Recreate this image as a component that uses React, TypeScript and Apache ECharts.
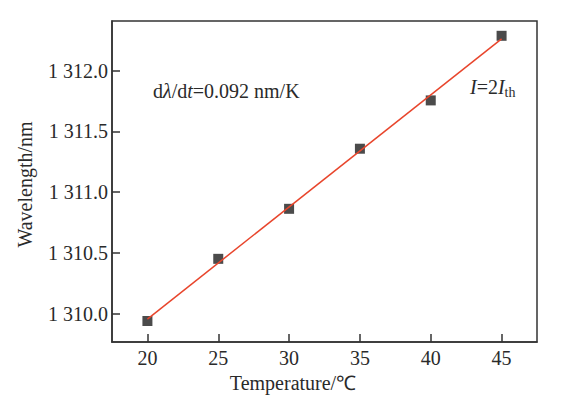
import React, { useEffect, useRef } from "react";
import * as echarts from "echarts";

const temperatures = [20, 25, 30, 35, 40, 45];
const wavelengths = [1309.939, 1310.451, 1310.863, 1311.358, 1311.756, 1312.288];
const fitX = [20, 45];
const fitY = [1309.955, 1312.263];
const xTicks = [20, 25, 30, 35, 40, 45];
const yTicks = [1310.0, 1310.5, 1311.0, 1311.5, 1312.0];

const FONT = "'Liberation Serif', 'Times New Roman', serif";

export default function App() {
  const ref = useRef<HTMLDivElement>(null);
  useEffect(() => {
    if (!ref.current) return;
    const chart = echarts.init(ref.current, null, { renderer: "svg" });
    const axisColor = "#333";
    chart.setOption({
      animation: false,
      backgroundColor: "#fff",
      textStyle: { fontFamily: FONT },
      grid: {
        left: 112,
        top: 21,
        width: 425,
        height: 321,
        show: true,
        borderColor: axisColor,
        borderWidth: 1.5,
        backgroundColor: "transparent",
      },
      xAxis: {
        type: "value",
        min: 17.5,
        max: 47.5,
        name: "Temperature/\u2103",
        nameLocation: "middle",
        nameGap: 28,
        nameTextStyle: {
          fontFamily: FONT,
          fontSize: 20,
          color: "#2a2a2a",
          padding: [0, 63, 0, 0],
        },
        splitLine: { show: false },
        axisLine: { show: true, lineStyle: { color: axisColor, width: 1.5 } },
        axisTick: {
          show: true,
          inside: true,
          length: 8,
          customValues: xTicks,
          lineStyle: { color: axisColor, width: 1.5 },
        },
        axisLabel: {
          customValues: xTicks,
          margin: 6,
          fontFamily: FONT,
          fontSize: 20,
          color: "#2a2a2a",
        },
      },
      yAxis: {
        type: "value",
        min: 1309.766,
        max: 1312.41,
        name: "Wavelength/nm",
        nameLocation: "middle",
        nameGap: 77,
        nameTextStyle: {
          fontFamily: FONT,
          fontSize: 20,
          color: "#2a2a2a",
          padding: [0, 6, 0, 0],
        },
        splitLine: { show: false },
        axisLine: { show: true, lineStyle: { color: axisColor, width: 1.5 } },
        axisTick: {
          show: true,
          inside: true,
          length: 8,
          customValues: yTicks,
          lineStyle: { color: axisColor, width: 1.5 },
        },
        axisLabel: {
          customValues: yTicks,
          margin: 4,
          fontFamily: FONT,
          fontSize: 20,
          color: "#2a2a2a",
          formatter: (v: number) => {
            const s = v.toFixed(1);
            return s.charAt(0) + " " + s.slice(1);
          },
        },
      },
      graphic: [
        {
          type: "text",
          left: 153,
          top: 81,
          style: {
            text: "d{i|\u03bb}/d{i|t}=0.092 nm/K",
            fontFamily: FONT,
            fontSize: 20,
            fill: "#2a2a2a",
            rich: {
              i: { fontFamily: FONT, fontSize: 20, fontStyle: "italic", fill: "#2a2a2a" },
            },
          },
        },
        {
          type: "text",
          left: 470,
          top: 77,
          style: {
            text: "{i|I}=2{i|I}{s|th}",
            fontFamily: FONT,
            fontSize: 20,
            fill: "#2a2a2a",
            rich: {
              i: { fontFamily: FONT, fontSize: 20, fontStyle: "italic", fill: "#2a2a2a" },
              s: { fontFamily: FONT, fontSize: 14, fill: "#2a2a2a", padding: [10, 0, 0, 0] },
            },
          },
        },
      ],
      series: [
        {
          type: "scatter",
          data: temperatures.map((t, i) => [t, wavelengths[i]]),
          symbol: "rect",
          symbolSize: 10,
          itemStyle: { color: "#1e1e1e" },
          z: 2,
        },
        {
          type: "line",
          data: fitX.map((t, i) => [t, fitY[i]]),
          showSymbol: false,
          symbol: "none",
          lineStyle: { color: "#e8452c", width: 1.5 },
          z: 3,
        },
      ],
    });
    return () => chart.dispose();
  }, []);
  return (
    <div
      ref={ref}
      style={{ position: "fixed", left: 0, top: 0, width: 578, height: 399 }}
    />
  );
}
